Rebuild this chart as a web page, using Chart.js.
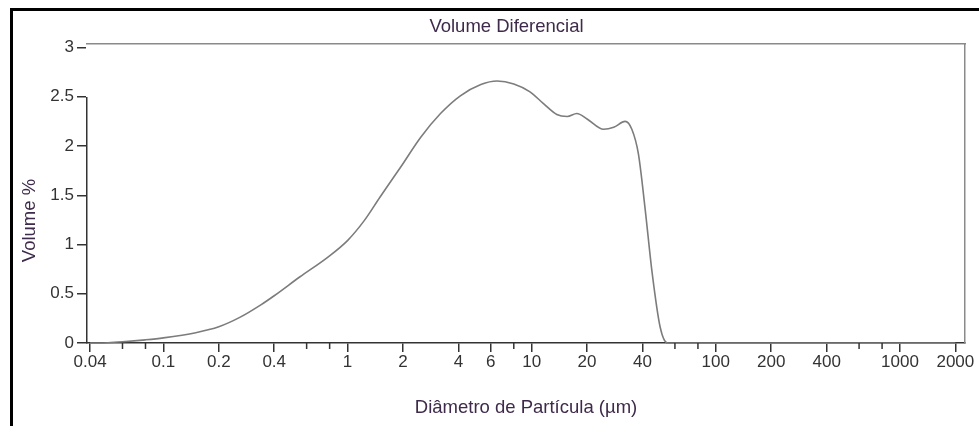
<!DOCTYPE html>
<html>
<head>
<meta charset="utf-8">
<script src="https://cdn.jsdelivr.net/npm/chart.js@4.4.1/dist/chart.umd.min.js"></script>
<style>
html,body{margin:0;padding:0;background:#fff;overflow:hidden}
#wrap{position:relative;width:979px;height:426px;overflow:hidden}
#frame{position:absolute;left:10px;top:8px;width:980px;height:430px;border-top:3px solid #000;border-left:3px solid #000}
#c{position:absolute;left:0;top:0}
</style>
</head>
<body>
<div id="wrap"><div id="frame"></div><canvas id="c" width="979" height="426"></canvas></div>
<script>
// ---- data ----
const diameters = [0.04,0.05,0.06,0.08,0.1,0.15,0.2,0.26,0.34,0.4,0.55,0.78,1.0,1.23,1.5,1.95,2.5,3.2,4.1,5.3,6.5,8.0,9.8,11.6,13.7,15.6,17.6,20,24.6,27.9,32.2,35,38,41.4,45,49.9,54.7,70,100,200,400,1000,2000];
const volumes   = [0,0.003,0.012,0.032,0.052,0.105,0.165,0.26,0.39,0.48,0.67,0.87,1.04,1.24,1.48,1.79,2.09,2.33,2.51,2.625,2.66,2.63,2.55,2.43,2.32,2.30,2.33,2.275,2.17,2.19,2.25,2.17,1.92,1.35,0.73,0.16,0,0,0,0,0,0,0];
const xTickValues = [0.04,0.1,0.2,0.4,1,2,4,6,10,20,40,100,200,400,1000,2000];
const xTickLabels = ['0.04','0.1','0.2','0.4','1','2','4','6','10','20','40','100','200','400','1000','2000'];
const xMinorTicks = [0.06,0.08,0.6,0.8,8,60,80,600,800];
const yTickValues = [0,0.5,1,1.5,2,2.5,3];
const yTickLabels = ['0','0.5','1','1.5','2','2.5','3'];
const chartTitle = 'Volume Diferencial';
const xTitle = 'Diâmetro de Partícula (µm)';
const yTitle = 'Volume %';

// ---- styling ----
const FONT = '"Liberation Sans", Arial, sans-serif';
const axisColor = '#333333';
const boxColor = '#8a8a8a';
const titleColor = '#3e2a4a';

const tweaks = {
  id: 'tweaks',
  afterLayout(chart) {
    // title centred on the original (wider) framed panel; y title lower than axis centre
    if (chart.titleBlock) chart.titleBlock.left += 48;
    chart.scales.y.top += 54;
  },
  afterDraw(chart) {
    const s = chart.scales.x, ctx = chart.ctx;
    ctx.save();
    ctx.strokeStyle = axisColor;
    ctx.lineWidth = 1.5;
    xMinorTicks.forEach(v => {
      const px = s.getPixelForValue(v);
      ctx.beginPath();
      ctx.moveTo(px, s.top);
      ctx.lineTo(px, s.top + 6);
      ctx.stroke();
    });
    ctx.restore();
  }
};

new Chart(document.getElementById('c'), {
  type: 'line',
  data: {
    datasets: [{
      data: diameters.map((d, i) => ({x: d, y: volumes[i]})),
      borderColor: '#7c7c7c',
      borderWidth: 1.6,
      pointRadius: 0,
      fill: false,
      clip: false,
      cubicInterpolationMode: 'monotone'
    }]
  },
  options: {
    responsive: false,
    animation: false,
    devicePixelRatio: 1,
    layout: {padding: {left: 0, right: 14, top: 0, bottom: 0}},
    plugins: {
      legend: {display: false},
      tooltip: {enabled: false},
      title: {
        display: true,
        text: chartTitle,
        color: titleColor,
        font: {family: FONT, size: 18.5, weight: 'normal', lineHeight: 1.2},
        padding: {top: 15.9, bottom: 5.9}
      }
    },
    scales: {
      x: {
        type: 'logarithmic',
        position: 'bottom',
        min: 0.0385,
        max: 2256,
        bounds: 'data',
        afterBuildTicks: s => { s.ticks = xTickValues.map(v => ({value: v})); },
        afterFit: s => { s.height = 83; },
        ticks: {
          autoSkip: false, maxRotation: 0, minRotation: 0,
          color: axisColor, padding: 0,
          font: {family: FONT, size: 17},
          callback: (v, i) => xTickLabels[i]
        },
        grid: {drawOnChartArea: false, drawTicks: true, tickLength: 9, color: axisColor, lineWidth: 1.5},
        border: {display: true, color: axisColor, width: 1.5},
        title: {
          display: true, text: xTitle, color: titleColor,
          font: {family: FONT, size: 18.5, lineHeight: 1.2},
          padding: {top: 0, bottom: 7}
        }
      },
      y: {
        type: 'linear',
        position: 'left',
        min: 0,
        max: 3.036,
        afterBuildTicks: s => { s.ticks = yTickValues.map(v => ({value: v})); },
        afterFit: s => { s.width = 87; },
        ticks: {
          color: axisColor, padding: 3,
          font: {family: FONT, size: 17},
          callback: (v, i) => yTickLabels[i]
        },
        grid: {drawOnChartArea: false, drawTicks: true, tickLength: 10, color: axisColor, lineWidth: 1.5},
        border: {display: true, color: axisColor, width: 1.5},
        title: {
          display: true, text: yTitle, color: titleColor,
          font: {family: FONT, size: 18.5, lineHeight: 1.2},
          padding: {top: 18.4, bottom: 0}
        }
      },
      x2: {
        type: 'linear', position: 'top', display: true,
        afterFit: s => { s.height = 0; },
        ticks: {display: false},
        grid: {display: false, drawTicks: false},
        border: {display: true, color: boxColor, width: 1.5}
      },
      y2: {
        type: 'linear', position: 'right', display: true,
        afterFit: s => { s.width = 0; },
        ticks: {display: false},
        grid: {display: false, drawTicks: false},
        border: {display: true, color: boxColor, width: 1.5}
      }
    }
  },
  plugins: [tweaks]
});
</script>
</body>
</html>
